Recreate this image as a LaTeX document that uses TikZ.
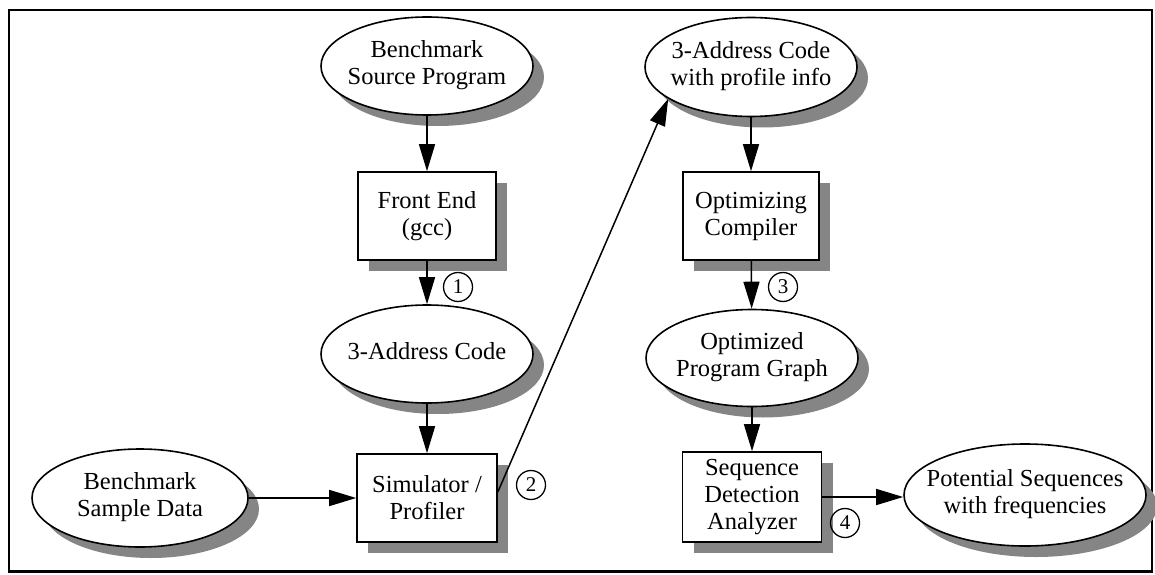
\documentclass[tikz,border=0pt]{standalone}
\usepackage{fontspec}
\setmainfont{Liberation Serif}
\usetikzlibrary{arrows.meta,shapes.geometric,shadows}

% centred lines in a box of zero width, so that the ellipse keeps its own size
\newcommand{\lines}[1]{\makebox[0pt]{\begin{tabular}{@{}c@{}}#1\end{tabular}}}

\begin{document}
\begin{tikzpicture}[x=1pt,y=1pt,
  castshadow/.style={drop shadow={shadow xshift=11pt,shadow yshift=-11pt,fill=black!48,opacity=1}},
  proc/.style={draw,line width=1.6pt,fill=white,castshadow,rectangle,inner sep=0pt,
    align=center,minimum width=138pt,minimum height=88pt,font=\fontsize{24.5}{27}\selectfont},
  data/.style={draw,line width=1.6pt,fill=white,castshadow,ellipse,inner sep=0pt,
    minimum width=212pt,minimum height=98pt,font=\fontsize{24.5}{27}\selectfont},
  num/.style={draw,circle,line width=1.3pt,minimum size=29pt,inner sep=0pt,
    font=\fontsize{21}{21}\selectfont},
  flow/.style={line width=1.5pt,-{Triangle[length=27pt,width=16pt]}}
]
\useasboundingbox (0,0) rectangle (1155,574);
% outer frame
\draw[line width=2.5pt] (9,2.5) rectangle (1152,564);

% left column: front end and profiling
\node[data] (src) at (427,508) {\lines{Benchmark\\Source Program}};
\node[proc] (fe) at (427,358) {Front End\\(gcc)};
\node[data] (addr) at (427,220) {\lines{3-Address Code}};
\node[proc, minimum width=140pt] (sim) at (427,76) {Simulator /\\Profiler};
\node[data, minimum width=216pt] (sample) at (140,76) {\lines{Benchmark\\Sample Data}};

% right column: optimization and sequence analysis
\node[data, minimum height=99pt] (prof) at (751,507) {\lines{3-Address Code\\with profile info}};
\node[proc, minimum width=136pt] (opt) at (751,358) {Optimizing\\Compiler};
\node[data, minimum height=97pt] (pg) at (752,216) {\lines{Optimized\\Program Graph}};
\node[proc, minimum width=139pt, minimum height=90pt] (sda) at (752,77) {Sequence\\Detection\\Analyzer};
\node[data, minimum width=242pt, minimum height=102pt] (pot) at (1025,79) {\lines{Potential Sequences\\with frequencies}};

% step numbers
\node[num] (c1) at (458,287) {1};
\node[num] (c2) at (531,89) {2};
\node[num] (c3) at (783,287) {3};
\node[num] (c4) at (845,51) {4};

% connectors
\draw[flow] (src) -- (fe);
\draw[flow] (fe) -- (addr);
\draw[flow] (addr) -- (sim);
\draw[flow] (sample) -- (sim);
\draw[flow] ([yshift=6pt]sim.east) -- (prof.201);
\draw[flow] (prof) -- (opt);
\draw[flow] (opt) -- (pg);
\draw[flow] (pg) -- (sda);
\draw[flow] (sda.east) -- (sda.east -| pot.west);
\end{tikzpicture}
\end{document}
